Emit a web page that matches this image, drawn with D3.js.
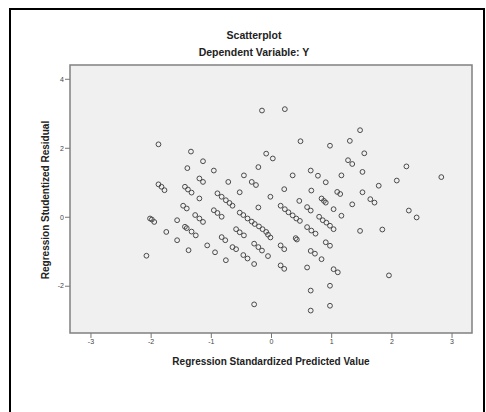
<!DOCTYPE html>
<html>
<head>
<meta charset="utf-8">
<script src="https://cdn.jsdelivr.net/npm/d3@7"></script>
<style>
  body { margin: 0; background: #fff; }
  svg { display: block; font-family: "Liberation Sans", Arial, sans-serif; }
</style>
</head>
<body>
<div id="chart"></div>
<script>
// values
const predicted = [
  -2.07, -2.01, -1.98, -1.94, -1.87, -1.87, -1.82, -1.77, -1.74, -1.56,
  -1.56, -1.46, -1.40, -1.43, -1.38, -1.32, -1.43, -1.40, -1.32, -1.25,
  -1.37, -1.39, -1.33, -1.19, -1.13, -1.13, -1.19, -1.26, -1.19, -1.13,
  -1.06, -0.95, -0.95, -0.89, -0.82, -0.93, -0.89, -0.82, -0.75, -0.69,
  -0.64, -0.82, -0.76, -0.75, -0.71, -0.64, -0.58, -0.58, -0.52, -0.45,
  -0.52, -0.45, -0.32, -0.25, -0.21, -0.21, -0.15, -0.08, 0.03, -0.52,
  -0.46, -0.39, -0.32, -0.27, -0.20, -0.14, -0.08, -0.05, -0.01, -0.46,
  -0.39, -0.28, -0.28, -0.28, -0.21, -0.15, -0.05, -0.01, 0.23, 0.22,
  0.36, 0.49, 0.47, 0.16, 0.23, 0.29, 0.36, 0.42, 0.48, 0.41,
  0.43, 0.16, 0.22, 0.16, 0.22, 0.60, 0.66, 0.67, 0.66, 0.78,
  0.60, 0.67, 0.74, 0.66, 0.73, 0.60, 0.66, 0.66, 0.84, 0.88,
  0.91, 0.91, 0.98, 0.80, 0.86, 0.92, 0.98, 1.04, 0.91, 0.98,
  0.84, 1.04, 1.11, 0.98, 0.98, 1.04, 1.17, 1.10, 1.15, 1.17,
  1.28, 1.35, 1.31, 1.48, 1.55, 1.52, 1.52, 1.35, 1.65, 1.72,
  1.79, 1.48, 1.85, 1.96, 2.09, 2.25, 2.29, 2.42, 2.83
];
const residual = [
  -1.13, -0.05, -0.08, -0.15, 2.10, 0.94, 0.87, 0.77, -0.44, -0.10,
  -0.68, 0.32, 0.24, 0.87, 0.79, 0.70, -0.29, -0.33, -0.43, -0.54,
  -0.97, 1.41, 1.89, 1.11, 1.01, 1.61, 0.53, 0.05, -0.05, -0.15,
  -0.83, 1.34, 0.19, 0.11, 0.00, -1.03, 0.68, 0.58, 0.48, 0.40,
  0.32, -0.59, -0.68, -1.26, 1.01, -0.88, -0.94, -0.36, -0.45, -0.54,
  0.71, 1.20, 1.01, 0.92, 1.44, 0.27, 3.08, 1.83, 1.69, 0.12,
  0.05, -0.05, -0.14, -0.21, -0.28, -0.36, -0.44, -0.52, -0.60, -1.11,
  -1.21, -1.37, -2.54, -0.78, -0.88, -0.98, -1.14, 0.58, 3.12, 0.80,
  1.20, 2.19, 0.46, 0.32, 0.22, 0.13, 0.04, -0.05, -0.12, -0.62,
  -0.66, -0.83, -0.94, -1.41, -1.51, 0.28, 0.18, 0.76, 1.34, 1.19,
  -0.30, -0.40, -0.49, -0.99, -1.07, -1.47, -2.14, -2.72, 0.53, 0.46,
  0.41, 1.00, 2.06, 0.00, -0.10, -0.17, -0.26, -0.36, -0.74, -0.84,
  -1.23, -1.52, -1.61, -2.00, -2.58, 0.22, 0.03, 0.72, 0.66, 1.20,
  1.64, 1.53, 2.20, 2.51, 1.84, 1.30, 0.71, 0.36, 0.51, 0.41,
  0.90, -0.41, -0.37, -1.70, 1.05, 1.46, 0.18, -0.02, 1.15
];
const xTicks = [-3, -2, -1, 0, 1, 2, 3];
const yTicks = [-2, 0, 2, 4];

const W = 486, H = 412;
const plot = { left: 70, top: 65, right: 472, bottom: 333 };

const svg = d3.select("#chart").append("svg")
  .attr("width", W)
  .attr("height", H);

// outer frame
svg.append("rect")
  .attr("x", 10).attr("y", 9)
  .attr("width", 474).attr("height", 410)
  .attr("fill", "#fff")
  .attr("stroke", "#000")
  .attr("stroke-width", 2);

const x = d3.scaleLinear().domain([-3.34, 3.34]).range([plot.left, plot.right]);
const y = d3.scaleLinear().domain([-3.37, 4.40]).range([plot.bottom, plot.top]);

// plot area
svg.append("rect")
  .attr("x", plot.left).attr("y", plot.top)
  .attr("width", plot.right - plot.left)
  .attr("height", plot.bottom - plot.top)
  .attr("fill", "#f0f0f0")
  .attr("stroke", "#808080")
  .attr("stroke-width", 1.5);

// titles
svg.append("text")
  .attr("x", 254).attr("y", 39)
  .attr("text-anchor", "middle")
  .attr("font-size", 10.5).attr("font-weight", "bold")
  .attr("fill", "#222")
  .text("Scatterplot");

svg.append("text")
  .attr("x", 254).attr("y", 56)
  .attr("text-anchor", "middle")
  .attr("font-size", 10.5).attr("font-weight", "bold")
  .attr("fill", "#222")
  .text("Dependent Variable: Y");

// axes - plain hyphen minus like the original
const fmt = (d) => String(d);
const xAxis = d3.axisBottom(x).tickValues(xTicks).tickFormat(fmt).tickSize(5).tickPadding(1);
const yAxis = d3.axisLeft(y).tickValues(yTicks).tickFormat(fmt).tickSize(5).tickPadding(1);

const gx = svg.append("g")
  .attr("transform", `translate(0, ${plot.bottom})`)
  .call(xAxis);
const gy = svg.append("g")
  .attr("transform", `translate(${plot.left}, 0)`)
  .call(yAxis);

[gx, gy].forEach((g) => {
  g.select(".domain").remove();
  g.selectAll(".tick line").attr("stroke", "#777");
  g.selectAll(".tick text")
    .attr("fill", "#444")
    .attr("font-size", 7)
    .attr("font-family", "\"Liberation Sans\", Arial, sans-serif");
});

svg.append("text")
  .attr("x", 271).attr("y", 365)
  .attr("text-anchor", "middle")
  .attr("font-size", 10).attr("font-weight", "bold")
  .attr("fill", "#222")
  .text("Regression Standardized Predicted Value");

svg.append("text")
  .attr("transform", "translate(49, 200) rotate(-90)")
  .attr("text-anchor", "middle")
  .attr("font-size", 10).attr("font-weight", "bold")
  .attr("fill", "#222")
  .text("Regression Studentized Residual");

// points
const points = predicted.map((d, i) => ({ px: d, res: residual[i] }));

svg.append("g")
  .selectAll("circle")
  .data(points)
  .join("circle")
  .attr("cx", (d) => x(d.px))
  .attr("cy", (d) => y(d.res))
  .attr("r", 2.4)
  .attr("fill", "none")
  .attr("stroke", "#4a4a4a")
  .attr("stroke-width", 1);
</script>
</body>
</html>
